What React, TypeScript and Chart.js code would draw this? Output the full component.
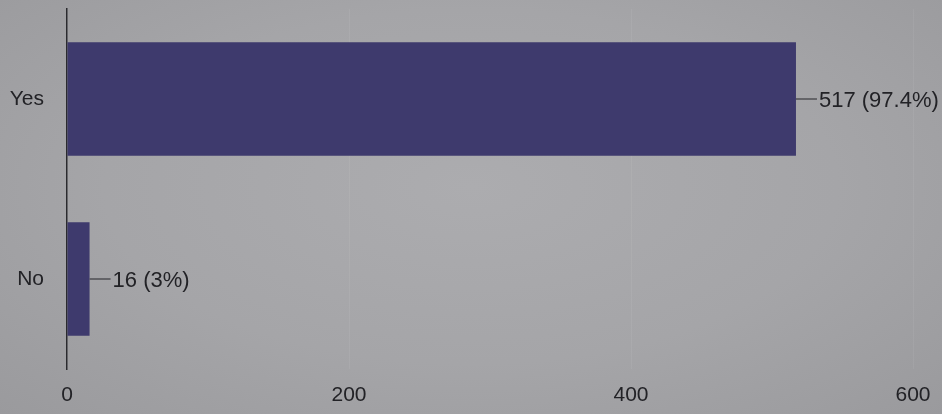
import React, { useEffect, useRef } from "react";
import { Chart, registerables } from "chart.js";

Chart.register(...registerables);

const categories = ["Yes", "No"];
const counts = [517, 16];
const percentLabels = ["97.4%", "3%"];
const xTicks = [0, 200, 400, 600];

const BAR_COLOR = "#3e3a6d";
const TEXT_COLOR = "#222226";
const FONT_FAMILY = "'Liberation Sans', Arial, sans-serif";

const valueLabelPlugin = {
  id: "valueLabels",
  afterDatasetsDraw(chart: any) {
    const { ctx } = chart;
    const meta = chart.getDatasetMeta(0);
    ctx.save();
    meta.data.forEach((bar: any, i: number) => {
      const x = bar.x;
      const y = bar.y;
      ctx.strokeStyle = "#3a3a3e";
      ctx.lineWidth = 1.2;
      ctx.beginPath();
      ctx.moveTo(x, y);
      ctx.lineTo(x + 21, y);
      ctx.stroke();
      ctx.fillStyle = TEXT_COLOR;
      ctx.font = `22px ${FONT_FAMILY}`;
      ctx.textAlign = "left";
      ctx.textBaseline = "middle";
      ctx.fillText(`${counts[i]} (${percentLabels[i]})`, x + 23, y + 2);
    });
    ctx.restore();
  },
};

export default function App() {
  const canvasRef = useRef<HTMLCanvasElement | null>(null);

  useEffect(() => {
    if (!canvasRef.current) return;
    const chart = new Chart(canvasRef.current, {
      type: "bar",
      data: {
        labels: categories,
        datasets: [
          {
            data: counts,
            backgroundColor: BAR_COLOR,
            borderWidth: 0,
            barPercentage: 0.63,
            categoryPercentage: 1,
          },
        ],
      },
      options: {
        indexAxis: "y",
        animation: false,
        responsive: false,
        maintainAspectRatio: false,
        layout: { padding: { top: 9, right: 29, bottom: 7, left: 0 } },
        plugins: {
          legend: { display: false },
          tooltip: { enabled: false },
        },
        scales: {
          x: {
            min: 0,
            max: 600,
            afterBuildTicks: (scale: any) => {
              scale.ticks = xTicks.map((v) => ({ value: v }));
            },
            afterFit: (scale: any) => {
              scale.height = 38;
              scale.paddingTop = 0;
              scale.paddingBottom = 0;
              scale.paddingLeft = 0;
              scale.paddingRight = 0;
            },
            grid: {
              color: "rgba(255,255,255,0.06)",
              drawTicks: false,
            },
            border: { display: false },
            ticks: {
              color: TEXT_COLOR,
              padding: 14,
              font: { size: 21, family: FONT_FAMILY },
            },
          },
          y: {
            afterFit: (scale: any) => {
              scale.width = 67;
              scale.paddingTop = 0;
              scale.paddingBottom = 0;
            },
            grid: { display: false, drawTicks: false },
            border: { display: true, color: "#2a2a2e", width: 1.5 },
            ticks: {
              color: TEXT_COLOR,
              padding: 23,
              font: { size: 21, family: FONT_FAMILY },
            },
          },
        },
      },
      plugins: [valueLabelPlugin],
    });
    return () => chart.destroy();
  }, []);

  return (
    <div
      style={{
        position: "fixed",
        left: 0,
        top: 0,
        width: 942,
        height: 414,
        background:
          "radial-gradient(ellipse at 50% 45%, #acacaf 0%, #a5a5a8 55%, #9a9a9d 100%)",
      }}
    >
      <canvas ref={canvasRef} width={942} height={414} style={{ display: "block" }} />
    </div>
  );
}
